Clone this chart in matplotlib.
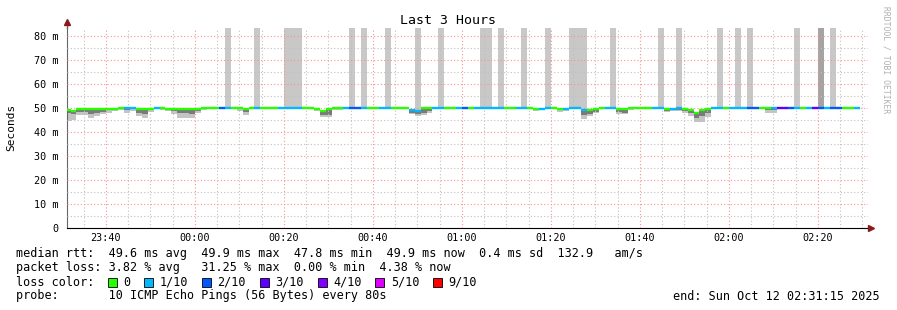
import matplotlib
matplotlib.use('Agg')
import numpy as np
import matplotlib.pyplot as plt
import matplotlib.dates as mdates
from matplotlib.lines import Line2D
from matplotlib.patches import Rectangle
from datetime import datetime, timedelta

plt.rcParams['font.family'] = 'DejaVu Sans Mono'

graph_start = datetime(2025, 10, 11, 23, 31, 15)
graph_end = datetime(2025, 10, 12, 2, 31, 15)
first_step = datetime(2025, 10, 11, 23, 30, 43)
step_sec = 80

# lost pings per step (out of 10)
loss = [
    0, 0, 0, 0, 0, 0, 0, 0, 0, 0,
    1, 1, 0, 0, 0, 1, 0, 0, 0, 0,
    0, 0, 0, 0, 0, 0, 2, 1, 0, 0,
    0, 0, 1, 0, 0, 0, 1, 1, 1, 1,
    0, 0, 0, 0, 0, 0, 0, 1, 2, 2,
    1, 0, 0, 1, 1, 0, 0, 0, 1, 1,
    0, 0, 1, 1, 0, 0, 1, 2, 0, 1,
    1, 1, 1, 1, 0, 0, 1, 1, 0, 0,
    1, 1, 0, 0, 1, 1, 1, 1, 0, 0,
    0, 1, 1, 0, 0, 0, 0, 0, 0, 1,
    1, 0, 1, 1, 0, 0, 0, 0, 0, 1,
    1, 0, 1, 1, 1, 2, 2, 0, 0, 1,
    3, 3, 2, 1, 0, 1, 3, 2, 1, 2,
    2, 0, 0, 1,
]

# median rtt per step (ms)
median = [
    49.3, 48.8, 49.6, 49.5, 49.4, 49.4, 49.5, 49.6, 49.7, 49.9,
    49.9, 49.9, 49.6, 49.5, 49.7, 49.9, 49.8, 49.7, 49.6, 49.5,
    49.5, 49.4, 49.6, 49.9, 49.9, 49.9, 49.9, 49.9, 49.9, 49.8,
    49.7, 49.9, 49.9, 49.9, 49.9, 49.9, 49.9, 49.9, 49.9, 49.9,
    49.9, 49.9, 49.6, 48.9, 49.5, 49.9, 49.9, 49.9, 49.9, 49.9,
    49.9, 49.9, 49.9, 49.9, 49.9, 49.9, 49.9, 49.9, 49.1, 48.9,
    49.8, 49.8, 49.9, 49.9, 49.9, 49.9, 49.9, 49.9, 49.9, 49.9,
    49.9, 49.9, 49.9, 49.9, 49.9, 49.9, 49.9, 49.9, 49.9, 49.7,
    49.5, 49.9, 49.9, 49.6, 49.5, 49.9, 49.9, 49.2, 49.0, 49.5,
    49.9, 49.9, 49.9, 49.6, 49.5, 49.8, 49.9, 49.9, 49.9, 49.9,
    49.9, 49.7, 49.6, 49.8, 49.6, 49.2, 47.8, 49.0, 49.6, 49.9,
    49.9, 49.9, 49.9, 49.9, 49.9, 49.9, 49.9, 49.9, 49.8, 49.9,
    49.9, 49.9, 49.9, 49.9, 49.9, 49.9, 49.9, 49.9, 49.9, 49.9,
    49.9, 49.9, 49.9, 49.9,
]

# inner smoke (lower quartile of pings, ms)
smoke_q1 = [
    48.0, 47.5, 48.3, 48.5, 47.5, 47.8, 48.5, 49.0, 49.3, 49.5,
    49.3, 49.5, 48.0, 47.5, 49.3, 49.7, 49.5, 49.4, 48.8, 48.0,
    47.8, 47.5, 48.8, 49.7, 49.7, 49.7, 49.7, 49.7, 49.7, 49.4,
    48.5, 49.7, 49.7, 49.7, 49.7, 49.7, 49.7, 49.7, 49.7, 49.7,
    49.7, 49.7, 49.2, 47.0, 47.2, 49.6, 49.7, 49.7, 49.7, 49.7,
    49.7, 49.7, 49.7, 49.7, 49.7, 49.7, 49.7, 49.7, 48.0, 47.5,
    47.8, 48.8, 49.7, 49.7, 49.7, 49.7, 49.7, 49.7, 49.7, 49.7,
    49.7, 49.7, 49.7, 49.7, 49.7, 49.7, 49.7, 49.7, 49.7, 49.3,
    49.2, 49.7, 49.7, 49.0, 49.2, 49.7, 49.7, 47.0, 47.5, 48.5,
    49.7, 49.7, 49.7, 48.3, 48.0, 49.5, 49.7, 49.7, 49.7, 49.7,
    49.7, 48.9, 49.0, 49.2, 48.8, 47.8, 46.0, 46.5, 48.0, 49.7,
    49.7, 49.7, 49.7, 49.7, 49.7, 49.7, 49.7, 49.7, 49.0, 49.0,
    49.7, 49.7, 49.7, 49.7, 49.7, 49.7, 49.7, 49.7, 49.7, 49.7,
    49.7, 49.7, 49.7, 49.7,
]

# fastest ping per step (ms)
smoke_min = [
    44.7, 45.0, 47.0, 47.0, 46.0, 46.5, 47.5, 48.0, 48.8, 49.0,
    47.9, 48.8, 46.5, 45.8, 48.5, 49.5, 49.0, 48.8, 47.5, 46.0,
    45.8, 46.0, 47.8, 49.3, 49.6, 49.6, 49.6, 49.6, 49.6, 48.8,
    47.1, 49.6, 49.6, 49.6, 49.6, 49.6, 49.6, 49.6, 49.6, 49.6,
    49.6, 49.5, 48.8, 46.3, 46.2, 49.2, 49.0, 49.6, 49.6, 49.6,
    49.6, 49.6, 49.6, 49.6, 49.6, 49.6, 49.6, 49.6, 47.5, 46.5,
    46.9, 48.0, 49.6, 49.6, 49.6, 49.6, 49.6, 49.6, 49.6, 49.6,
    49.6, 49.6, 49.6, 49.6, 49.6, 49.6, 49.6, 49.6, 49.6, 48.8,
    49.0, 49.6, 49.6, 48.5, 48.9, 49.6, 49.6, 45.3, 46.5, 47.8,
    49.6, 49.6, 49.6, 47.5, 47.3, 49.3, 49.6, 49.6, 49.6, 49.6,
    49.6, 48.5, 48.6, 48.8, 48.0, 46.8, 44.3, 44.0, 46.3, 49.6,
    49.6, 49.6, 49.6, 49.6, 49.6, 49.6, 49.6, 49.6, 48.0, 48.0,
    49.6, 49.6, 49.6, 49.6, 49.6, 49.6, 49.6, 49.6, 49.6, 49.6,
    49.6, 49.6, 49.6, 49.6,
]

# steps where lost pings are drawn up to the top
loss_bar_steps = [27, 32, 37, 38, 39, 48, 50, 54, 59, 63, 70, 71, 73, 77, 81,
                  85, 86, 87, 92, 100, 103, 110, 113, 115, 123, 127, 129]
heavy_bar_steps = [127]

loss_labels = ['0', '1/10', '2/10', '3/10', '4/10', '5/10', '9/10']
loss_counts = [0, 1, 2, 3, 4, 5, 9]
loss_colors = ['#26ff00', '#00b8ff', '#0059ff', '#5e00ff', '#7e00ff', '#dd00ff', '#ff0000']

yticks = [0, 10, 20, 30, 40, 50, 60, 70, 80]
ytick_labels = ['0', '10 m', '20 m', '30 m', '40 m', '50 m', '60 m', '70 m', '80 m']
y_top = 83.3

stats_lines = [
    'median rtt:  49.6 ms avg  49.9 ms max  47.8 ms min  49.9 ms now  0.4 ms sd  132.9   am/s',
    'packet loss: 3.82 % avg   31.25 % max  0.00 % min  4.38 % now',
]
probe_line = 'probe:       10 ICMP Echo Pings (56 Bytes) every 80s'
end_line = 'end: Sun Oct 12 02:31:15 2025'

W, H = 897, 310
fig = plt.figure(figsize=(W / 100, H / 100), dpi=100)
fig.patch.set_facecolor('white')
ax = fig.add_axes([67 / W, (H - 228) / H, (868 - 67) / W, 200 / H])

n = len(median)
starts = mdates.date2num([first_step + timedelta(seconds=step_sec * i) for i in range(n)])
width = step_sec / 86400.0
med = np.array(median)
q1 = np.array(smoke_q1)
mn = np.array(smoke_min)
color_of = dict(zip(loss_counts, loss_colors))

ax.bar(starts, med - mn, bottom=mn, width=width, align='edge',
       color='#c4c4c4', linewidth=0, zorder=1)
ax.bar(starts, med - q1, bottom=q1, width=width, align='edge',
       color='#7a7a7a', linewidth=0, zorder=1.1)
bs = np.array(loss_bar_steps)
ax.bar(starts[bs], y_top - med[bs], bottom=med[bs], width=width, align='edge',
       color='#c8c8c8', linewidth=0, zorder=1)
hs = np.array(heavy_bar_steps)
ax.bar(starts[hs], y_top - med[hs], bottom=med[hs], width=width, align='edge',
       color='#a4a4a4', linewidth=0, zorder=1.05)
ax.hlines(med, starts, starts + width, colors=[color_of[l] for l in loss],
          linewidth=1.7, zorder=3)

ax.set_xlim(mdates.date2num(graph_start), mdates.date2num(graph_end))
ax.set_ylim(0, y_top)
ax.set_yticks(yticks)
ax.set_yticklabels(ytick_labels)
ax.yaxis.set_minor_locator(matplotlib.ticker.MultipleLocator(5))
ax.xaxis.set_major_locator(mdates.MinuteLocator(byminute=[0, 20, 40]))
ax.xaxis.set_minor_locator(mdates.MinuteLocator(byminute=range(0, 60, 5)))
ax.xaxis.set_major_formatter(mdates.DateFormatter('%H:%M'))

ax.set_axisbelow(False)
ax.grid(which='major', color='#ff9090', linestyle=(0, (1, 2)), linewidth=0.8, zorder=2)
ax.grid(which='minor', color='#c0c0c0', linestyle=(0, (1, 2)), linewidth=0.8, zorder=2)
ax.tick_params(which='both', length=0)
ax.tick_params(axis='y', pad=6, labelsize=7.3)
ax.tick_params(axis='x', pad=3.5, labelsize=7.3)

for s in ['top', 'right']:
    ax.spines[s].set_visible(False)
ax.spines['left'].set_color('#666666')
ax.spines['bottom'].set_color('#000000')
ax.set_facecolor('white')

# axis arrows
fig.add_artist(Line2D([67 / W, 67 / W], [(H - 28) / H, (H - 22) / H], color='#666666', lw=1))
fig.add_artist(Line2D([67 / W], [(H - 22) / H], marker='^', markersize=4.5,
                      color='#8b1a1a', linestyle='none'))
fig.add_artist(Line2D([868 / W, 871 / W], [(H - 228) / H, (H - 228) / H], color='#000000', lw=1))
fig.add_artist(Line2D([871 / W], [(H - 228) / H], marker='>', markersize=4.5,
                      color='#8b1a1a', linestyle='none'))

fig.text(448 / W, (H - 20) / H, 'Last 3 Hours', ha='center', va='center', fontsize=9.5)
fig.text(11 / W, (H - 127) / H, 'Seconds', rotation=90, ha='center', va='center', fontsize=8)
fig.text(886 / W, (H - 60) / H, 'RRDTOOL / TOBI OETIKER', rotation=270, ha='center',
         va='center', fontsize=5.8, color='#b0b0b0')

fs = 8.5
cw = 7.1
fig.text(16 / W, (H - 254) / H, stats_lines[0], va='center', fontsize=fs)
fig.text(16 / W, (H - 268) / H, stats_lines[1], va='center', fontsize=fs)
fig.text(16 / W, (H - 282) / H, 'loss color:', va='center', fontsize=fs)
bx = 108
for lab, col in zip(loss_labels, loss_colors):
    fig.add_artist(Rectangle((bx / W, (H - 287) / H), 9 / W, 9 / H, facecolor=col,
                             edgecolor='#000000', linewidth=0.6))
    fig.text((bx + 15.5) / W, (H - 282) / H, lab, va='center', fontsize=fs)
    bx = bx + 15.5 + len(lab) * cw + 13.8
fig.text(16 / W, (H - 296) / H, probe_line, va='center', fontsize=fs)
fig.text(880 / W, (H - 296) / H, end_line, ha='right', va='center', fontsize=fs)

fig.savefig('out.png', dpi=100, facecolor='white')
